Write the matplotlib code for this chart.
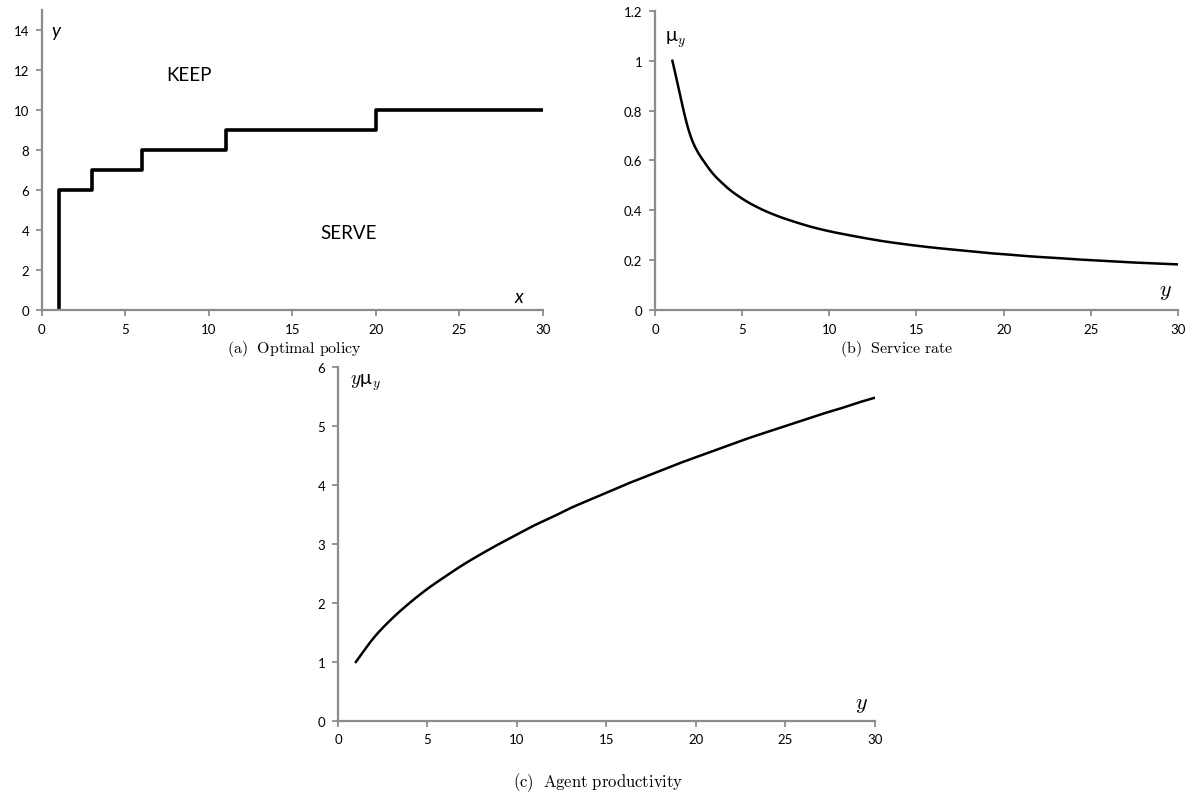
import matplotlib
matplotlib.use('Agg')
import matplotlib.pyplot as plt
import numpy as np

plt.rcParams['font.family'] = ['Lato', 'DejaVu Sans']
plt.rcParams['mathtext.fontset'] = 'cm'

# (a) optimal policy: threshold steps
pol_x = [1, 1, 3, 6, 11, 20, 30]
pol_y = [0, 6, 7, 8, 9, 10, 10]

# (b) service rate and (c) productivity, read at y = 1..30
ys = list(range(1, 31))
mu = [1.000, 0.707, 0.577, 0.500, 0.447, 0.408, 0.378, 0.354, 0.333, 0.316,
      0.302, 0.289, 0.277, 0.267, 0.258, 0.250, 0.243, 0.236, 0.229, 0.224,
      0.218, 0.213, 0.209, 0.204, 0.200, 0.196, 0.192, 0.189, 0.186, 0.183]
ymu = [1.00, 1.41, 1.73, 2.00, 2.24, 2.45, 2.65, 2.83, 3.00, 3.16,
       3.32, 3.46, 3.61, 3.74, 3.87, 4.00, 4.12, 4.24, 4.36, 4.47,
       4.58, 4.69, 4.80, 4.90, 5.00, 5.10, 5.20, 5.29, 5.39, 5.48]

grey = '#8c8c8c'


def smooth(x, y, n=12):
    # catmull-rom through the points, like excel's smoothed line
    x = np.asarray(x, float)
    y = np.asarray(y, float)
    res = []
    for p in (x, y):
        p = np.r_[2 * p[0] - p[1], p, 2 * p[-1] - p[-2]]
        t = np.linspace(0, 1, n, endpoint=False)[:, None]
        p0, p1, p2, p3 = p[:-3], p[1:-2], p[2:-1], p[3:]
        seg = 0.5 * (2 * p1 + (-p0 + p2) * t + (2 * p0 - 5 * p1 + 4 * p2 - p3) * t ** 2
                     + (-p0 + 3 * p1 - 3 * p2 + p3) * t ** 3)
        res.append(np.r_[seg.T.ravel(), p[-2]])
    return res[0], res[1]


fig = plt.figure(figsize=(11.98, 8.03), dpi=100)
ax1 = fig.add_axes([0.035, 0.6127, 0.418, 0.3736])
ax2 = fig.add_axes([0.5467, 0.6127, 0.4366, 0.3724])
ax3 = fig.add_axes([0.2821, 0.1009, 0.4482, 0.4408])


def excel_axes(ax):
    for s in ['top', 'right']:
        ax.spines[s].set_visible(False)
    for s in ['left', 'bottom']:
        ax.spines[s].set_color(grey)
        ax.spines[s].set_linewidth(1.6)
    ax.tick_params(direction='out', color=grey, width=1.3, length=4,
                   labelsize=9.5, labelcolor='black', pad=5)
    ax.set_xlim(0, 30)
    ax.set_xticks(range(0, 31, 5))


excel_axes(ax1)
ax1.step(pol_x, pol_y, where='post', color='black', lw=2.6)
ax1.set_ylim(0, 15)
ax1.set_yticks(range(0, 15, 2))
ax1.text(0.55, 14, 'y', style='italic', fontsize=13.5, va='center')
ax1.text(28.3, 0.25, 'x', style='italic', fontsize=13.5, va='bottom')
ax1.text(8.8, 11.8, 'KEEP', fontsize=13.5, ha='center', va='center')
ax1.text(18.4, 3.9, 'SERVE', fontsize=13.5, ha='center', va='center')

excel_axes(ax2)
sx, sy = smooth(ys, mu)
ax2.plot(sx, sy, color='black', lw=1.8)
ax2.set_ylim(0, 1.2)
ax2.set_yticks([0, 0.2, 0.4, 0.6, 0.8, 1, 1.2])
ax2.set_yticklabels(['0', '0.2', '0.4', '0.6', '0.8', '1', '1.2'])
ax2.text(0.55, 1.09, 'μ$_y$', fontsize=14, va='center')
ax2.text(28.9, 0.035, r'$y$', fontsize=16, va='bottom')

excel_axes(ax3)
sx, sy = smooth(ys, ymu)
ax3.plot(sx, sy, color='black', lw=1.8)
ax3.set_ylim(0, 6)
ax3.set_yticks(range(0, 7))
ax3.text(0.7, 5.75, '$y$μ$_y$', fontsize=14, va='center')
ax3.text(28.9, 0.12, r'$y$', fontsize=16, va='bottom')

fig.text(294 / 1198, 1 - 349 / 803, r'$\mathrm{(a)\ \ Optimal\ policy}$',
         ha='center', va='center', fontsize=11.5)
fig.text(897 / 1198, 1 - 349 / 803, r'$\mathrm{(b)\ \ Service\ rate}$',
         ha='center', va='center', fontsize=11.5)
fig.text(598 / 1198, 1 - 783 / 803, r'$\mathrm{(c)\ \ Agent\ productivity}$',
         ha='center', va='center', fontsize=12)

fig.savefig('out.png', dpi=100)
